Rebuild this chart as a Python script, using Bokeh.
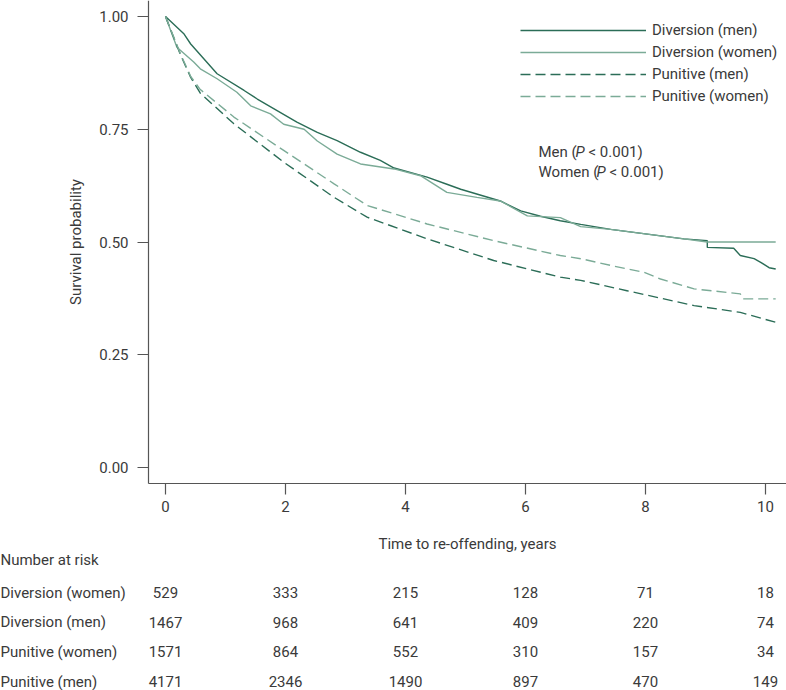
import math
from bokeh.plotting import figure
from bokeh.models import Range1d, Legend, LegendItem, Label, FixedTicker, ColumnDataSource, LinearAxis
from bokeh.embed import file_html
from bokeh.resources import INLINE
from bokeh.core.properties import value

# ---------------- data ----------------
t_div_men = [0, 0.31, 0.42, 0.86, 1.31, 1.53, 2.19, 2.53, 2.86, 3.25, 3.58, 3.81, 4.36, 4.69,
             4.92, 5.58, 5.92, 6.25, 6.58, 6.92, 7.42, 8.64, 9.03, 9.03, 9.47, 9.58, 9.81,
             9.92, 10.06, 10.17]
s_div_men = [1.0, 0.961, 0.939, 0.873, 0.836, 0.817, 0.766, 0.743, 0.725, 0.699, 0.681, 0.664,
             0.644, 0.628, 0.617, 0.591, 0.569, 0.557, 0.547, 0.539, 0.528, 0.507, 0.503, 0.488,
             0.486, 0.470, 0.463, 0.455, 0.443, 0.440]

t_div_women = [0, 0.19, 0.47, 0.58, 0.86, 1.19, 1.42, 1.75, 1.97, 2.31, 2.53, 2.86, 3.25, 3.81,
               4.25, 4.69, 5.19, 5.58, 6.03, 6.58, 6.92, 7.42, 8.64, 9.03, 10.17]
s_div_women = [1.0, 0.932, 0.899, 0.884, 0.862, 0.832, 0.802, 0.784, 0.761, 0.750, 0.724, 0.695,
               0.673, 0.662, 0.647, 0.610, 0.599, 0.591, 0.558, 0.554, 0.534, 0.528, 0.507,
               0.500, 0.500]

t_pun_men = [0, 0.25, 0.42, 0.58, 1.14, 1.97, 2.81, 3.36, 4.36, 5.47, 6.58, 6.92, 7.69, 8.81,
             9.58, 10.17]
s_pun_men = [1.0, 0.915, 0.865, 0.830, 0.762, 0.677, 0.599, 0.555, 0.507, 0.459, 0.422, 0.415,
             0.392, 0.359, 0.344, 0.322]

t_pun_women = [0, 0.25, 0.42, 0.58, 1.14, 1.97, 2.81, 3.36, 4.36, 5.47, 6.58, 6.92, 7.42, 7.97,
               8.25, 8.81, 9.58, 9.62, 10.17]
s_pun_women = [1.0, 0.917, 0.867, 0.838, 0.777, 0.703, 0.629, 0.581, 0.540, 0.503, 0.470, 0.463,
               0.448, 0.433, 0.418, 0.396, 0.385, 0.374, 0.374]

series_labels = ["Diversion (men)", "Diversion (women)", "Punitive (men)", "Punitive (women)"]

x_ticks = [0, 2, 4, 6, 8, 10]
y_ticks = [0.0, 0.25, 0.5, 0.75, 1.0]
y_tick_labels = ["0.00", "0.25", "0.50", "0.75", "1.00"]
x_title = "Time to re-offending, years"
y_title = "Survival probability"

risk_title = "Number at risk"
risk_times = [0, 2, 4, 6, 8, 10]
risk_rows = ["Diversion (women)", "Diversion (men)", "Punitive (women)", "Punitive (men)"]
nar_div_women = [529, 333, 215, 128, 71, 18]
nar_div_men = [1467, 968, 641, 409, 220, 74]
nar_pun_women = [1571, 864, 552, 310, 157, 34]
nar_pun_men = [4171, 2346, 1490, 897, 470, 149]

# ---------------- geometry / style ----------------
FONT = "Roboto"
TXT = "#3a3a3a"
AX = "#555555"
DARK = "#2b6d57"
LIGHT = "#7bab97"
FS = "15px"

W, H = 786, 690
PX_T0, PXYR = 165.0, 60.0        # pixel of t = 0, pixels per year
PX_S1, PXS = 16.0, 451.0         # pixel of S = 1, pixels per unit of S
AXIS_X_PX, AXIS_Y_PX = 148.0, 483.0

def dx(px):
    return (px - PX_T0) / PXYR

def dy(py):
    return 1.0 + (PX_S1 - py) / PXS

p = figure(width=W, height=H, x_range=Range1d(dx(0), dx(W)), y_range=Range1d(dy(H), dy(0)),
           output_backend="svg", toolbar_location=None, x_axis_location=None,
           y_axis_location=None, min_border=0)
p.outline_line_color = None
p.grid.visible = False

r1 = p.line(t_div_men, s_div_men, line_color=DARK, line_width=1.4)
r2 = p.line(t_div_women, s_div_women, line_color=LIGHT, line_width=1.4)
r3 = p.line(t_pun_men, s_pun_men, line_color=DARK, line_width=1.4, line_dash="10 5")
r4 = p.line(t_pun_women, s_pun_women, line_color=LIGHT, line_width=1.4, line_dash="10 5")

xaxis = LinearAxis(ticker=FixedTicker(ticks=x_ticks), fixed_location=dy(AXIS_Y_PX),
                   bounds=(dx(AXIS_X_PX), dx(W)), major_label_standoff=6)
yaxis = LinearAxis(ticker=FixedTicker(ticks=y_ticks), fixed_location=dx(AXIS_X_PX),
                   bounds=(dy(AXIS_Y_PX), dy(0)), major_label_standoff=9,
                   major_label_overrides={t: l for t, l in zip(y_ticks, y_tick_labels)})
for ax in (xaxis, yaxis):
    ax.axis_line_color = AX
    ax.axis_line_width = 1.2
    ax.major_tick_line_color = AX
    ax.major_tick_line_width = 1.2
    ax.major_tick_out = 11
    ax.major_tick_in = 0
    ax.minor_tick_line_color = None
    ax.major_label_text_font = FONT
    ax.major_label_text_font_size = FS
    ax.major_label_text_color = TXT
p.add_layout(xaxis, "below")
p.add_layout(yaxis, "left")

# axis titles
p.text(x=[dx((AXIS_X_PX + W) / 2)], y=[dy(543)], text=[x_title], text_align="center",
       text_baseline="middle", text_font=value(FONT), text_font_size=FS, text_color=TXT)
p.text(x=[dx(75)], y=[dy(AXIS_Y_PX / 2)], text=[y_title], angle=math.pi / 2, text_align="center",
       text_baseline="middle", text_font=value(FONT), text_font_size=FS, text_color=TXT)

legend = Legend(items=[LegendItem(label=l, renderers=[r]) for l, r in zip(series_labels, [r1, r2, r3, r4])],
                location=(520, H - 106), glyph_width=126, glyph_height=20, label_height=20,
                spacing=2, padding=0, margin=0, label_standoff=6,
                label_text_font=FONT, label_text_font_size=FS, label_text_color=TXT,
                border_line_color=None, background_fill_alpha=0)
p.add_layout(legend)

# P-value annotations
pv = [("Men (", 151, 37), ("Women (", 171, 58)]
for txt, py, off in pv:
    common = dict(x=dx(538), y=dy(py), text_font=FONT, text_font_size=FS,
                  text_color=TXT, text_baseline="middle")
    p.add_layout(Label(text=txt, **common))
    p.add_layout(Label(text="P", x_offset=off, text_font_style="italic", **common))
    p.add_layout(Label(text="< 0.001)", x_offset=off + 13, **common))

# ---------------- number at risk table (own vertical scale: row index) ----------------
ROW0_PX, ROWH = 592.0, 29.67
p.extra_y_ranges = {"table": Range1d((H - ROW0_PX) / ROWH, -ROW0_PX / ROWH)}

rows_vals = [nar_div_women, nar_div_men, nar_pun_women, nar_pun_men]
xs, ys, txts = [], [], []
for i, vals in enumerate(rows_vals):
    for t, v in zip(risk_times, vals):
        xs.append(t)
        ys.append(i)
        txts.append(str(v))
p.text(x="x", y="y", text="text", source=ColumnDataSource(dict(x=xs, y=ys, text=txts)),
       y_range_name="table", text_align="center", text_baseline="middle",
       text_font=value(FONT), text_font_size=FS, text_color=TXT)

lab_x = dx(0)
row_text = [risk_title] + risk_rows
row_y = [(559.0 - ROW0_PX) / ROWH] + list(range(len(risk_rows)))
p.text(x="x", y="y", text="text",
       source=ColumnDataSource(dict(x=[lab_x] * len(row_text), y=row_y, text=row_text)),
       y_range_name="table", text_align="left", text_baseline="middle",
       text_font=value(FONT), text_font_size=FS, text_color=TXT)

open("out.html", "w").write(file_html(p, INLINE))
